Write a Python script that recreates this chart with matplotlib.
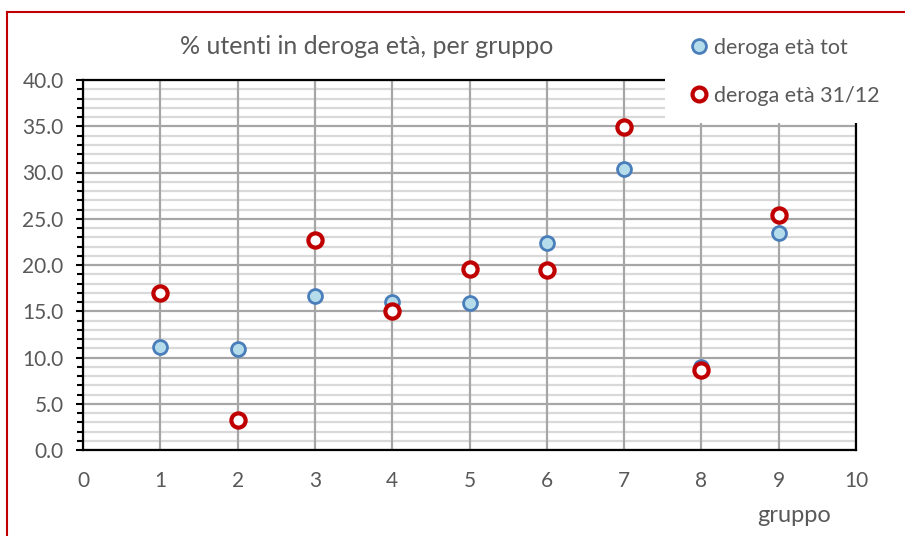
import matplotlib.pyplot as plt
from matplotlib.patches import Rectangle
from matplotlib.lines import Line2D
from matplotlib.ticker import MultipleLocator, FormatStrFormatter

# dati
gruppi = [1, 2, 3, 4, 5, 6, 7, 8, 9]
deroga_tot = [11.1, 10.9, 16.6, 16.0, 15.9, 22.4, 30.4, 9.0, 23.5]
deroga_3112 = [17.0, 3.2, 22.7, 15.0, 19.6, 19.5, 34.9, 8.6, 25.4]

grigio = '#595959'
plt.rcParams['font.family'] = ['Lato', 'DejaVu Sans']

fig = plt.figure(figsize=(9.05, 5.36), dpi=100)
ax = fig.add_axes([83 / 905, 86 / 536, 773 / 905, 370 / 536])

ax.set_xlim(0, 10)
ax.set_ylim(0, 40)
ax.xaxis.set_major_locator(MultipleLocator(1))
ax.yaxis.set_major_locator(MultipleLocator(5))
ax.yaxis.set_minor_locator(MultipleLocator(1))
ax.yaxis.set_major_formatter(FormatStrFormatter('%.1f'))

# griglia stile Excel (verticali sopra le orizzontali)
ax.grid(which='minor', axis='y', color='#d9d9d9', linewidth=1.6)
ax.grid(which='major', axis='y', color='#a6a6a6', linewidth=1.6)
ax.grid(which='major', axis='x', color='#a6a6a6', linewidth=1.6)
ax.set_axisbelow(True)
ax.xaxis.set_zorder(0.6)

for s in ax.spines.values():
    s.set_color('black')
    s.set_linewidth(1.6)

ax.tick_params(axis='y', which='major', length=5, width=1.5, pad=9,
               labelsize=15, labelcolor=grigio, direction='out')
ax.tick_params(axis='y', which='minor', length=4, width=1.5, direction='out')
ax.tick_params(axis='x', which='major', length=0, pad=15,
               labelsize=15, labelcolor=grigio)

ax.scatter(gruppi, deroga_tot, s=100, facecolor='#b4dcea', edgecolor='#4a7ebb',
           linewidth=2, zorder=3, clip_on=False)
ax.scatter(gruppi, deroga_3112, s=105, facecolor='white', edgecolor='#c00000',
           linewidth=3, zorder=3, clip_on=False)

ax.set_xlabel('gruppo', fontsize=17, color=grigio, va='top')
ax.xaxis.set_label_coords(711 / 773, -55 / 370)

fig.text(367 / 905, 1 - 46 / 536, '% utenti in deroga età, per gruppo',
         ha='center', va='center', fontsize=18, color=grigio)

# riquadro bianco della legenda sopra l'area del grafico
ax.add_patch(Rectangle((665 / 905, 413 / 536), 197 / 905, 110 / 536,
                       transform=fig.transFigure, facecolor='white',
                       edgecolor='none', zorder=4, clip_on=False))

handles = [
    Line2D([], [], linestyle='none', marker='o', markersize=10,
           markerfacecolor='#b4dcea', markeredgecolor='#4a7ebb', markeredgewidth=2),
    Line2D([], [], linestyle='none', marker='o', markersize=10,
           markerfacecolor='white', markeredgecolor='#c00000', markeredgewidth=3),
]
leg = ax.legend(handles, ['deroga età tot', 'deroga età 31/12'],
                loc='upper left', bbox_to_anchor=(677 / 905, 1 - 27 / 536),
                bbox_transform=fig.transFigure, frameon=False, fontsize=15.5,
                labelcolor=grigio, handlelength=1, handletextpad=0.2,
                labelspacing=1.3, borderpad=0)
leg.set_zorder(5)

# bordo rosso della figura
fig.add_artist(Line2D([7 / 905, 1], [1 - 12 / 536, 1 - 12 / 536],
                      transform=fig.transFigure, color='#c00000', linewidth=1.5))
fig.add_artist(Line2D([7 / 905, 7 / 905], [0, 1 - 12 / 536],
                      transform=fig.transFigure, color='#c00000', linewidth=1.5))

fig.savefig('out.png', dpi=100)
